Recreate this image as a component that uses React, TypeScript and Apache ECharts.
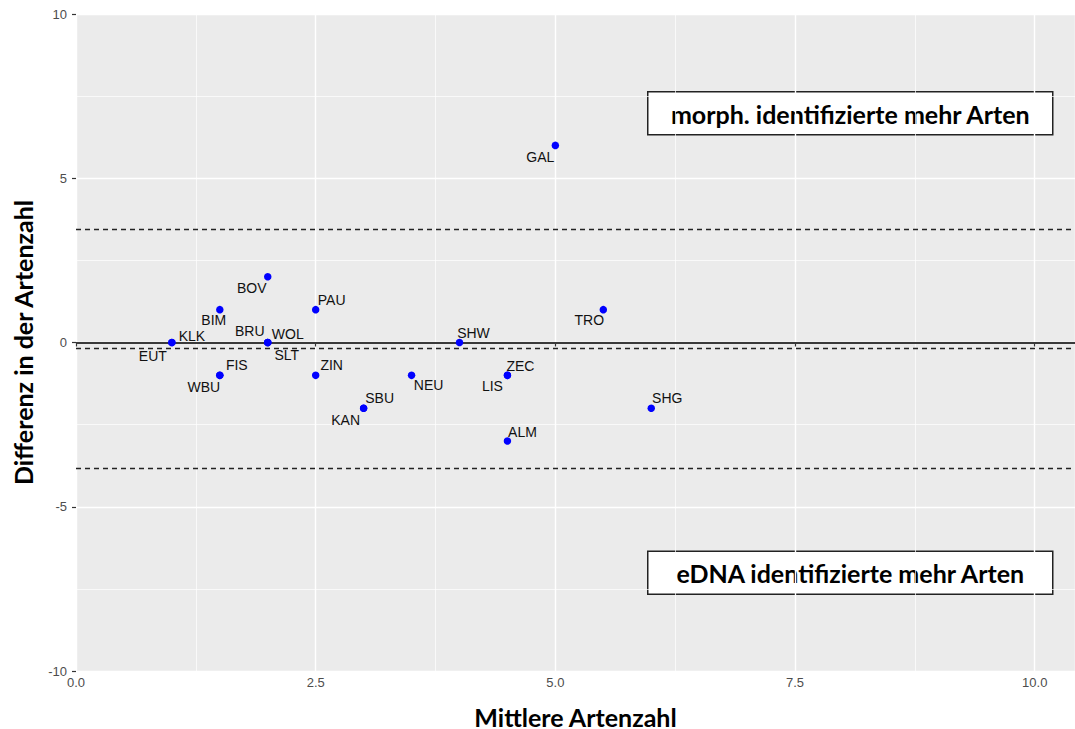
import React, { useEffect, useRef } from "react";
import * as echarts from "echarts";

// Sites with their mean species count and the difference (morphological - eDNA)
const sites = ["GAL", "BOV", "BIM", "PAU", "TRO", "KLK", "EUT", "BRU", "WOL", "SLT", "SHW", "FIS", "WBU", "ZIN", "NEU", "ZEC", "LIS", "SBU", "KAN", "SHG", "ALM"];
const meanCount = [5, 2, 1.5, 2.5, 5.5, 1, 1, 2, 2, 2, 4, 1.5, 1.5, 2.5, 3.5, 4.5, 4.5, 3, 3, 6, 4.5];
const difference = [6, 2, 1, 1, 1, 0, 0, 0, 0, 0, 0, -1, -1, -1, -1, -1, -1, -2, -2, -2, -3];

const xTicks = [0, 2.5, 5, 7.5, 10];
const xMinorGrid = [1.25, 3.75, 6.25, 8.75];
const yTicks = [-10, -5, 0, 5, 10];

const xTitle = "Mittlere Artenzahl";
const yTitle = "Differenz in der Artenzahl";
const upperNote = "morph. identifizierte mehr Arten";
const lowerNote = "eDNA identifizierte mehr Arten";

// Label placement (pixel offsets from each point), repelled by hand
const labelOffsets: Record<string, [number, number]> = {
  GAL: [-15, 12], BOV: [-16, 11], BIM: [-6, 10], PAU: [16, -10], TRO: [-14, 10],
  KLK: [20, -7], EUT: [-19, 13], BRU: [-18, -12], WOL: [20, -9], SLT: [19, 12],
  SHW: [14, -10], FIS: [17, -10], WBU: [-16, 12], ZIN: [16, -10], NEU: [17, 10],
  ZEC: [13, -9], LIS: [-15, 11], SBU: [16, -10], KAN: [-18, 12], SHG: [16, -10],
  ALM: [15, -9],
};

// Bland-Altman statistics: mean difference and 95% limits of agreement
const n = difference.length;
const meanDiff = difference.reduce((a, b) => a + b, 0) / n;
const sdDiff = Math.sqrt(difference.reduce((a, b) => a + (b - meanDiff) ** 2, 0) / (n - 1));
const upperLimit = meanDiff + 1.96 * sdDiff;
const lowerLimit = meanDiff - 1.96 * sdDiff;

const TICK_COLOR = "#4d4d4d";
const TITLE_FONT = "Lato";
const TITLE_SIZE = 25;

export default function App() {
  const ref = useRef<HTMLDivElement>(null);

  useEffect(() => {
    if (!ref.current) return;
    const chart = echarts.init(ref.current, null, { renderer: "svg" });

    const points = sites.map((s, i) => ({
      name: s,
      value: [meanCount[i], difference[i]],
    }));

    const noteBox = (text: string, y: number) => ({
      type: "group",
      left: 647,
      top: y,
      z: 100,
      children: [
        {
          type: "rect",
          shape: { x: 0, y: 0, width: 405, height: 43 },
          style: { fill: "#ffffff", stroke: "#222222", lineWidth: 1.5 },
        },
        {
          type: "text",
          x: 202.5,
          y: 22,
          style: {
            text,
            fill: "#000000",
            font: `bold ${TITLE_SIZE}px ${TITLE_FONT}`,
            align: "center",
            verticalAlign: "middle",
          },
        },
      ],
    });

    chart.setOption({
      animation: false,
      backgroundColor: "#ffffff",
      grid: {
        left: 76,
        top: 14,
        right: 0,
        bottom: 58,
        outerBoundsMode: "none",
        containLabel: false,
        show: true,
        backgroundColor: "#ebebeb",
        borderWidth: 0,
      },
      xAxis: {
        type: "value",
        min: 0,
        max: 10.42,
        interval: 2.5,
        name: xTitle,
        nameLocation: "middle",
        nameGap: 34,
        nameTextStyle: {
          fontFamily: TITLE_FONT,
          fontWeight: "bold",
          fontSize: TITLE_SIZE,
          lineHeight: 23,
          color: "#000",
        },
        axisLine: { show: false },
        axisTick: { show: true, length: 4, lineStyle: { color: "#333333", width: 1.2 } },
        axisLabel: {
          margin: 5,
          fontFamily: "Liberation Sans",
          fontSize: 13,
          color: TICK_COLOR,
          showMaxLabel: false,
          formatter: (v: number) =>
            xTicks.some((t) => Math.abs(t - v) < 1e-6) ? v.toFixed(1) : "",
        },
        splitLine: { show: true, lineStyle: { color: "#ffffff", width: 1.4 } },
      },
      yAxis: {
        type: "value",
        min: -10,
        max: 10,
        interval: 5,
        name: yTitle,
        nameLocation: "middle",
        nameGap: 41,
        nameTextStyle: { fontFamily: TITLE_FONT, fontWeight: "bold", fontSize: TITLE_SIZE, color: "#000" },
        axisLine: { show: false },
        axisTick: { show: true, length: 4, lineStyle: { color: "#333333", width: 1.2 } },
        axisLabel: {
          margin: 9,
          fontFamily: "Liberation Sans",
          fontSize: 13,
          color: TICK_COLOR,
          formatter: (v: number) => (yTicks.includes(v) ? String(v) : ""),
        },
        splitLine: { show: true, lineStyle: { color: "#ffffff", width: 1.4 } },
        minorTick: { show: false, splitNumber: 2 },
        minorSplitLine: { show: true, lineStyle: { color: "#ffffff", width: 0.7 } },
      },
      series: [
        {
          // minor vertical grid lines
          type: "scatter",
          data: [],
          silent: true,
          z: 1,
          markLine: {
            silent: true,
            symbol: "none",
            label: { show: false },
            lineStyle: { color: "#ffffff", width: 0.7, type: "solid" },
            data: xMinorGrid.map((x) => ({ xAxis: x })),
          },
        },
        {
          // reference lines: zero, mean difference, limits of agreement
          type: "scatter",
          data: [],
          silent: true,
          z: 2,
          markLine: {
            silent: true,
            symbol: "none",
            label: { show: false },
            data: [
              { yAxis: 0, lineStyle: { color: "#3a3a3a", width: 1.8, type: "solid" } },
              { yAxis: meanDiff, lineStyle: { color: "#222222", width: 1.4, type: [5, 4] } },
              { yAxis: upperLimit, lineStyle: { color: "#222222", width: 1.4, type: [5, 4] } },
              { yAxis: lowerLimit, lineStyle: { color: "#222222", width: 1.4, type: [5, 4] } },
            ],
          },
        },
        {
          type: "scatter",
          z: 5,
          symbol: "circle",
          symbolSize: 7.5,
          itemStyle: { color: "#0000ff", opacity: 1 },
          label: {
            show: true,
            position: "inside",
            formatter: "{b}",
            fontFamily: "Liberation Sans",
            fontSize: 14,
            color: "#111111",
          },
          labelLayout: (params: any) => {
            const off = labelOffsets[sites[params.dataIndex]] || [0, 0];
            return { dx: off[0], dy: off[1], hideOverlap: false };
          },
          data: points,
        },
      ],
      graphic: [noteBox(upperNote, 91), noteBox(lowerNote, 550.5)],
    });

    return () => chart.dispose();
  }, []);

  return (
    <div
      ref={ref}
      style={{ position: "fixed", left: 0, top: 0, width: 1075, height: 729 }}
    />
  );
}
